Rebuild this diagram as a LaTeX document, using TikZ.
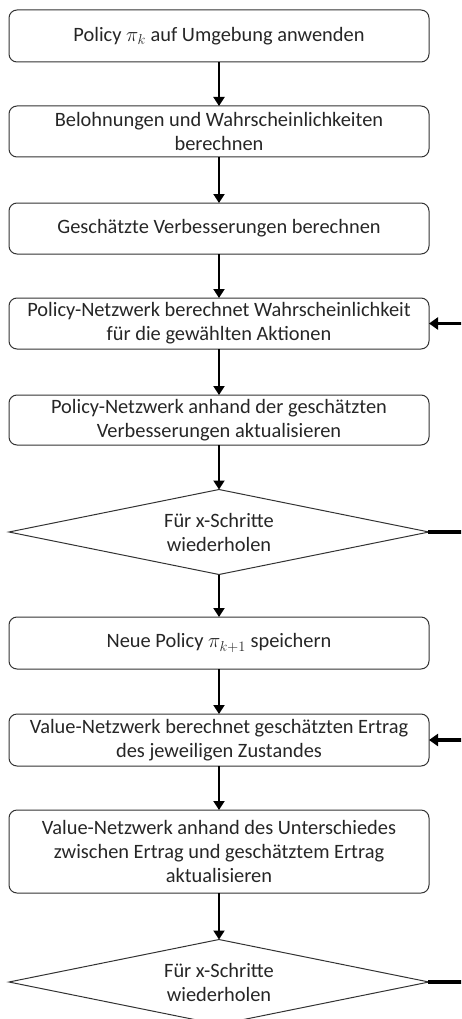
\documentclass[tikz,border=0pt]{standalone}
\usepackage{fontspec}
\setmainfont{Carlito}
\usetikzlibrary{shapes.geometric,arrows.meta}
\begin{document}
\begin{tikzpicture}[x=1pt,y=-1pt,
  every node/.style={font=\fontsize{20.4}{24}\selectfont, text=black!85, align=center},
  box/.style={draw=black!80, line width=1pt, rounded corners=8pt, minimum width=420pt, inner sep=0pt, outer sep=0pt},
  dec/.style={draw=black!80, line width=1pt, shape=diamond, aspect=5, minimum width=420pt, minimum height=85pt, inner sep=0pt, outer sep=0pt},
  flow/.style={draw=black, line width=2pt, -{Triangle[length=9pt,width=11pt]}},
  back/.style={draw=black, line width=3.5pt},
  backin/.style={draw=black, line width=3.5pt, -{Triangle[length=9pt,width=12pt]}}]
\useasboundingbox (0,0) rectangle (461,1019);
\clip (0,0) rectangle (461,1019);
\node[box, minimum height=52pt] (b1) at (219,36) {Policy $\pi_k$ auf Umgebung anwenden};
\node[box, minimum height=51pt] (b2) at (219,131.5) {Belohnungen und Wahrscheinlichkeiten\\berechnen};
\node[box, minimum height=51pt] (b3) at (219,228.5) {Geschätzte Verbesserungen berechnen};
\node[box, minimum height=51pt] (b4) at (219,323.5) {Policy-Netzwerk berechnet Wahrscheinlichkeit\\für die gewählten Aktionen};
\node[box, minimum height=50pt] (b5) at (219,420) {Policy-Netzwerk anhand der geschätzten\\Verbesserungen aktualisieren};
\node[dec] (d1) at (219,532) {Für x-Schritte\\wiederholen};
\node[box, minimum height=52pt] (b6) at (219,643) {Neue Policy $\pi_{k+1}$ speichern};
\node[box, minimum height=52pt] (b7) at (219,740) {Value-Netzwerk berechnet geschätzten Ertrag\\des jeweiligen Zustandes};
\node[box, minimum height=83pt] (b8) at (219,851.5) {Value-Netzwerk anhand des Unterschiedes\\zwischen Ertrag und geschätztem Ertrag\\aktualisieren};
\node[dec] (d2) at (219,982) {Für x-Schritte\\wiederholen};
\coordinate (r1) at (462,323.5);
\coordinate (r2) at (462,532);
\coordinate (r3) at (462,740);
\coordinate (r4) at (462,982);
\draw[flow] (b1) -- (b2);
\draw[flow] (b2) -- (b3);
\draw[flow] (b3) -- (b4);
\draw[flow] (b4) -- (b5);
\draw[flow] (b5) -- (d1);
\draw[flow] (d1) -- (b6);
\draw[flow] (b6) -- (b7);
\draw[flow] (b7) -- (b8);
\draw[flow] (b8) -- (d2);
\draw[back] ([xshift=-1pt]d1.east) -- (r2);
\draw[back] ([xshift=-1pt]d2.east) -- (r4);
\draw[backin] (r1) -- (b4.east);
\draw[backin] (r3) -- (b7.east);
\end{tikzpicture}
\end{document}
